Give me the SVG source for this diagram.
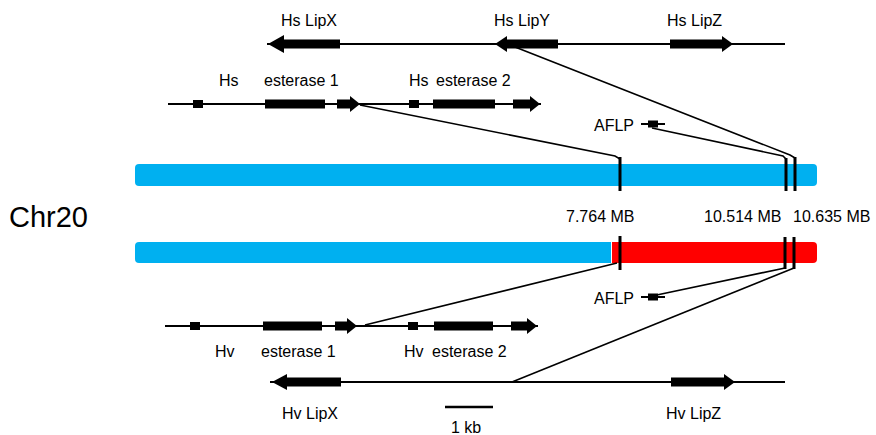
<svg xmlns="http://www.w3.org/2000/svg" width="876" height="435" viewBox="0 0 876 435">
<style>
text{font-family:"Liberation Sans",Arial,sans-serif;font-size:16px;fill:#000}
.ln{stroke:#000;stroke-width:2;fill:none}
.cn{stroke:#000;stroke-width:1.6;fill:none}
.mk{stroke:#000;stroke-width:3;fill:none}
.g{fill:#000}
</style>
<rect width="876" height="435" fill="#fff"/>
<g id="hs-lip-row">
<line class="ln" x1="267" y1="44" x2="785" y2="44"/>
<path class="g" d="M268,44 L284,35 L284,39.5 L340,39.5 L340,48.5 L284,48.5 L284,53 Z"/>
<path class="g" d="M495,44 L507,36 L507,39.5 L558,39.5 L558,48.5 L507,48.5 L507,52 Z"/>
<path class="g" d="M733,44 L722,36 L722,39.5 L670,39.5 L670,48.5 L722,48.5 L722,52 Z"/>
<text x="281" y="26">Hs LipX</text>
<text x="494" y="26">Hs LipY</text>
<text x="667" y="26">Hs LipZ</text>
</g>
<g id="hs-esterase-row">
<line class="ln" x1="168" y1="104" x2="541" y2="104"/>
<rect class="g" x="193" y="100" width="10" height="8"/>
<rect class="g" x="265" y="99.5" width="60" height="9"/>
<path class="g" d="M360,104 L350,96 L350,99.5 L337,99.5 L337,108.5 L350,108.5 L350,112 Z"/>
<rect class="g" x="409" y="100" width="10" height="8"/>
<rect class="g" x="433" y="99.5" width="62" height="9"/>
<path class="g" d="M540,104 L530,96 L530,99.5 L513,99.5 L513,108.5 L530,108.5 L530,112 Z"/>
<text x="219" y="86">Hs</text>
<text x="264" y="86">esterase 1</text>
<text x="409" y="86">Hs</text>
<text x="436" y="86">esterase 2</text>
</g>
<g id="aflp-top">
<line class="ln" x1="641" y1="124" x2="665" y2="124"/>
<rect class="g" x="648" y="120.5" width="10" height="7"/>
<text x="594" y="131">AFLP</text>
</g>
<g id="chr-top">
<rect x="135" y="164" width="682" height="22" rx="4" fill="#00B0F0"/>
</g>
<g id="chr-label">
<text x="9" y="227" style="font-size:29px">Chr20</text>
<text x="566" y="222">7.764 MB</text>
<text x="704" y="222">10.514 MB</text>
<text x="793" y="222">10.635 MB</text>
</g>
<g id="chr-bottom">
<rect x="606" y="242" width="211" height="21" rx="4" fill="#FF0000"/>
<rect x="135" y="242" width="476" height="21" rx="4" fill="#00B0F0"/>
<rect x="600" y="242" width="11" height="21" fill="#00B0F0"/>
<rect x="611" y="242" width="1" height="21" fill="#fff"/>
</g>
<g id="aflp-bottom">
<line class="ln" x1="641" y1="297" x2="665" y2="297"/>
<rect class="g" x="648" y="293.5" width="10" height="7"/>
<text x="594" y="304">AFLP</text>
</g>
<g id="hv-esterase-row">
<line class="ln" x1="165" y1="326" x2="538" y2="326"/>
<rect class="g" x="190" y="322" width="10" height="8"/>
<rect class="g" x="263" y="321.5" width="59" height="9"/>
<path class="g" d="M357,326 L347,318 L347,321.5 L335,321.5 L335,330.5 L347,330.5 L347,334 Z"/>
<rect class="g" x="408" y="322" width="10" height="8"/>
<rect class="g" x="434" y="321.5" width="59" height="9"/>
<path class="g" d="M537,326 L527,318 L527,321.5 L511,321.5 L511,330.5 L527,330.5 L527,334 Z"/>
<text x="215" y="357">Hv</text>
<text x="261" y="357">esterase 1</text>
<text x="404" y="357">Hv</text>
<text x="432" y="357">esterase 2</text>
</g>
<g id="hv-lip-row">
<line class="ln" x1="270" y1="382" x2="785" y2="382"/>
<path class="g" d="M272,382 L287,374 L287,377.5 L341,377.5 L341,386.5 L287,386.5 L287,390 Z"/>
<path class="g" d="M735,382 L724,374 L724,377.5 L671,377.5 L671,386.5 L724,386.5 L724,390 Z"/>
<text x="282" y="419">Hv LipX</text>
<text x="666" y="419">Hv LipZ</text>
</g>
<g id="scale-bar">
<line x1="445" y1="407" x2="493" y2="407" stroke="#000" stroke-width="2.5"/>
<text x="451" y="433">1 kb</text>
</g>
<g id="connectors">
<polyline class="cn" points="515,47 790,155 795,158"/>
<polyline class="cn" points="652,128 783,156 786,159"/>
<polyline class="cn" points="360,105 615,156 620,159"/>
<polyline class="cn" points="365,325 617,263"/>
<polyline class="cn" points="652,296 785,268"/>
<polyline class="cn" points="512,382 794,268"/>
<line class="mk" x1="620" y1="157" x2="620" y2="191"/>
<line class="mk" x1="786" y1="158" x2="786" y2="191"/>
<line class="mk" x1="795" y1="157" x2="795" y2="191"/>
<line class="mk" x1="620" y1="236" x2="620" y2="270"/>
<line class="mk" x1="785" y1="237" x2="785" y2="269"/>
<line class="mk" x1="794" y1="237" x2="794" y2="269"/>
</g>
</svg>
